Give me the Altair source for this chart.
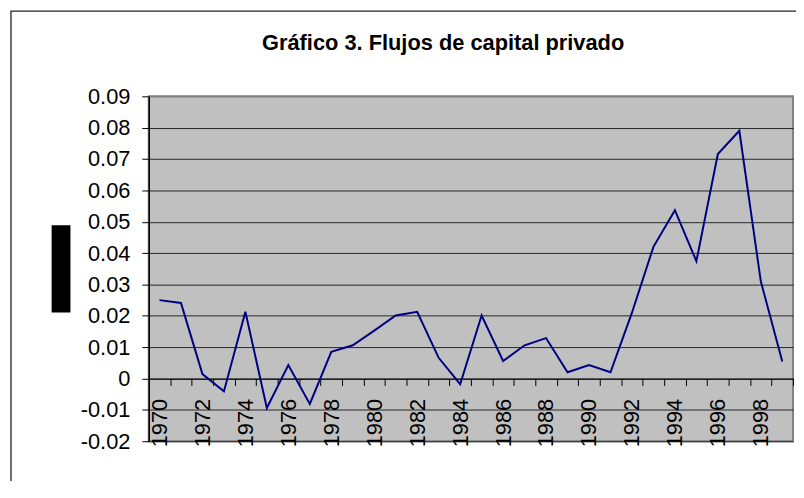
import altair as alt
import pandas as pd

# ---- data ----
years = list(range(1970, 2000))
flows = [0.0250, 0.0241, 0.0014, -0.0041, 0.0213, -0.0094, 0.0043, -0.0081,
         0.0085, 0.0106, 0.0153, 0.0201, 0.0213, 0.0066, -0.0018, 0.0201,
         0.0056, 0.0106, 0.0129, 0.0020, 0.0043, 0.0020, 0.0210, 0.0420,
         0.0537, 0.0374, 0.0716, 0.0790, 0.0310, 0.0054]
y_ticks = [-0.02, -0.01, 0, 0.01, 0.02, 0.03, 0.04, 0.05, 0.06, 0.07, 0.08, 0.09]
title_text = "Gráfico 3. Flujos de capital privado"

df = pd.DataFrame({"year": years, "flow": flows})

W, H = 650, 348
YMIN, YMAX = -0.02, 0.09
XMIN, XMAX = years[0] - 0.5, years[-1] + 0.5
half_step = W / (XMAX - XMIN) / 2
zero_offset = -H * (0 - YMIN) / (YMAX - YMIN)

FONT = "Liberation Sans"

line = alt.Chart(df).mark_line(color="#000080", strokeWidth=2).encode(
    x=alt.X("year:Q",
            scale=alt.Scale(domain=[XMIN, XMAX], nice=False, zero=False),
            axis=alt.Axis(values=years, title=None, grid=False,
                          offset=zero_offset, domainColor="black", domainWidth=1,
                          tickColor="black", tickSize=7, tickWidth=1,
                          tickOffset=half_step, labelOffset=-half_step,
                          labelAngle=270, labelFontSize=22, labelFont=FONT,
                          labelColor="black", labelPadding=13,
                          labelFlush=False, labelOverlap=False, labelBound=False,
                          labelExpr="datum.value % 2 == 0 ? datum.label : ''",
                          format="d")),
    y=alt.Y("flow:Q",
            scale=alt.Scale(domain=[YMIN, YMAX], nice=False, zero=False),
            axis=alt.Axis(values=y_ticks, title=None, grid=True,
                          gridColor=alt.condition("datum.value > 0.0895",
                                                  alt.value("#808080"),
                                                  alt.value("#262626")),
                          gridWidth=1, domainColor="black", domainWidth=1.5,
                          tickColor="black", tickSize=7, tickWidth=1,
                          labelFontSize=22, labelFont=FONT, labelColor="black",
                          labelPadding=12, labelFlush=False, labelOverlap=False,
                          format=".2~f",
                          labelExpr="replace(datum.label, '\u2212', '-')")),
)

deco = pd.DataFrame({"k": [0]})
outer = alt.Chart(deco).mark_rect(filled=False, stroke="#222222",
                                  strokeWidth=1.3).encode(
    x=alt.value(-139), x2=alt.value(700), y=alt.value(-86), y2=alt.value(500))
block = alt.Chart(deco).mark_rect(fill="black").encode(
    x=alt.value(-98), x2=alt.value(-79), y=alt.value(130), y2=alt.value(218))

chart = alt.layer(outer, block, line).properties(
    width=W, height=H,
    title=alt.TitleParams(title_text, fontSize=22, fontWeight="bold", font=FONT,
                          color="black", anchor="middle", frame="group",
                          dx=-28, offset=-62, baseline="alphabetic"),
    autosize=alt.AutoSizeParams(type="none"),
    padding={"left": 142, "top": 87, "right": 3, "bottom": 38},
    background="white",
).configure_view(
    fill="#c0c0c0", stroke="#808080", strokeWidth=2
)

chart.save("out.html", embed_options={"renderer": "svg", "actions": False})
